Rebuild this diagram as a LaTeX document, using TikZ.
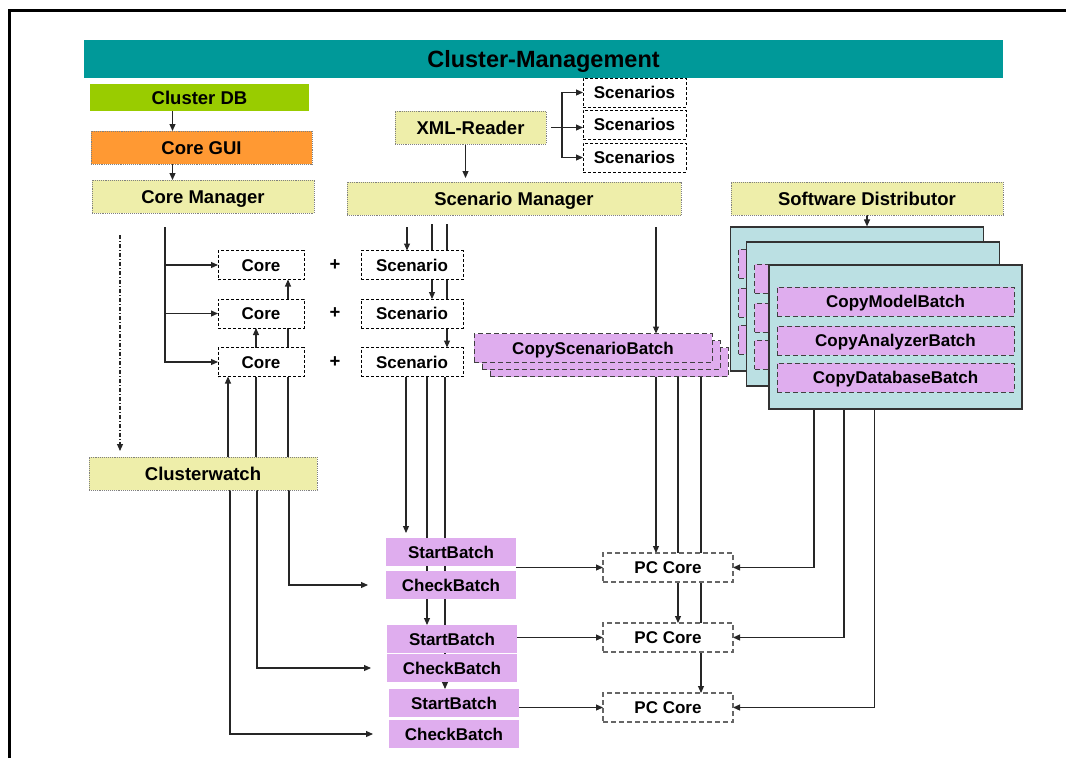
\documentclass[tikz,border=0pt]{standalone}
\usepackage{fontspec}
\setmainfont{Liberation Sans}
\usepackage{xcolor}
\usepackage{tikz}
\usetikzlibrary{arrows.meta, positioning, backgrounds}

\definecolor{titleteal}{HTML}{009999}
\definecolor{dbgreen}{HTML}{99CC00}
\definecolor{guiorange}{HTML}{FF9933}
\definecolor{mgryellow}{HTML}{EEEEAA}
\definecolor{batchlilac}{HTML}{DFADEE}
\definecolor{panelteal}{HTML}{BBE0E3}

\begin{document}
\begin{tikzpicture}[
        x=1pt, y=-1pt,
        box/.style={rectangle, inner sep=0pt, outer sep=0pt, minimum height=33pt, align=center, text height=13.2pt, text depth=0pt, font=\fontsize{18.5}{20}\selectfont\bfseries},
        small/.style={text height=12.2pt, font=\fontsize{17}{20}\selectfont\bfseries},
        mgr/.style={box, fill=mgryellow, draw=gray, densely dotted, line width=0.9pt},
        dashbox/.style={box, small, fill=white, draw=black, dash pattern=on 3pt off 2pt, line width=0.8pt, minimum height=29pt},
        pccore/.style={box, small, fill=white, draw=black!60, dash pattern=on 5pt off 3pt, line width=1.2pt, minimum width=130pt, minimum height=29pt},
        batch/.style={box, small, fill=batchlilac, minimum width=130pt, minimum height=28pt},
        copybatch/.style={box, small, fill=batchlilac, draw=black!75, dash pattern=on 5pt off 3pt, line width=0.9pt, minimum height=29pt},
        panel/.style={rectangle, inner sep=0pt, fill=panelteal, draw=black!80, line width=1.2pt, minimum width=253pt, minimum height=144pt},
        plusnode/.style={inner sep=0pt, font=\fontsize{18.5}{20}\selectfont\bfseries},
        arr/.style={-{Triangle[length=7pt,width=6pt]}, draw=black!85, line width=1.1pt},
        node distance=0pt
    ]
        \useasboundingbox (0,0) rectangle (1066,758);
        \draw[line width=3pt] (9.5,758) -- (9.5,10) -- (1066,10);

        \node[box, fill=titleteal, minimum width=919pt, minimum height=38pt, text height=16.8pt, font=\fontsize{23.5}{26}\selectfont\bfseries] (title) at (543.5,59) {Cluster-Management};
        \node[box, fill=dbgreen, minimum width=219pt, minimum height=27pt] (clusterdb) at (199.5,97.5) {Cluster DB};
        \node[mgr, fill=guiorange, minimum width=221pt] (coregui) at (201.5,147.5) {Core GUI};
        \node[mgr, minimum width=222pt] (coremgr) at (203,196.5) {Core Manager};
        \node[mgr, minimum width=151pt] (xmlreader) at (470.5,127.5) {XML-Reader};
        \node[dashbox, minimum width=103pt] (scenarios1) at (634.5,92.5) {Scenarios};
        \node[dashbox, minimum width=103pt, below=3pt of scenarios1] (scenarios2) {Scenarios};
        \node[dashbox, minimum width=103pt, below=4pt of scenarios2] (scenarios3) {Scenarios};
        \node[mgr, minimum width=334pt] (scenmgr) at (514,198.5) {Scenario Manager};
        \node[mgr, minimum width=272pt] (swdist) at (867,198.5) {Software Distributor};

        \node[dashbox, minimum width=86pt] (core1) at (261,265) {Core};
        \node[dashbox, minimum width=86pt] (core2) at (261,313.5) {Core};
        \node[dashbox, minimum width=86pt] (core3) at (261,362) {Core};
        \node[plusnode] (plus1) at (335,265) {+};
        \node[plusnode] (plus2) at (335,313.5) {+};
        \node[plusnode] (plus3) at (335,362) {+};
        \node[dashbox, minimum width=102pt] (scen1) at (412,265) {Scenario};
        \node[dashbox, minimum width=102pt] (scen2) at (412,313.5) {Scenario};
        \node[dashbox, minimum width=102pt] (scen3) at (412,362) {Scenario};
        \node[mgr, minimum width=228pt] (clusterwatch) at (203,473.5) {Clusterwatch};

        \node[copybatch, minimum width=238pt] (csback2) at (609,362) {};
        \node[copybatch, minimum width=238pt] (csback1) at (601,355) {};
        \node[copybatch, minimum width=238pt] (copyscen) at (593,348) {CopyScenarioBatch};

        \node[panel] (p1) at (857,299) {};
        \node[copybatch, minimum width=237pt] (p1m) at ([yshift=35.5pt]p1.center) {};
        \node[copybatch, minimum width=237pt] (p1a) at ([yshift=-3.5pt]p1.center) {};
        \node[copybatch, minimum width=237pt] (p1d) at ([yshift=-40.5pt]p1.center) {};
        \node[panel] (p2) at (873,314) {};
        \node[copybatch, minimum width=237pt] (p2m) at ([yshift=35.5pt]p2.center) {};
        \node[copybatch, minimum width=237pt] (p2a) at ([yshift=-3.5pt]p2.center) {};
        \node[copybatch, minimum width=237pt] (p2d) at ([yshift=-40.5pt]p2.center) {};
        \node[panel] (p3) at (895.5,337) {};
        \node[copybatch, minimum width=237pt] (p3m) at ([yshift=35.5pt]p3.center) {CopyModelBatch};
        \node[copybatch, minimum width=237pt] (p3a) at ([yshift=-3.5pt]p3.center) {CopyAnalyzerBatch};
        \node[copybatch, minimum width=237pt] (p3d) at ([yshift=-40.5pt]p3.center) {CopyDatabaseBatch};

        \node[batch] (sb1) at (451,552) {StartBatch};
        \node[batch, below=5pt of sb1] (cb1) {CheckBatch};
        \node[batch] (sb2) at (452,639) {StartBatch};
        \node[batch, below=1pt of sb2] (cb2) {CheckBatch};
        \node[batch] (sb3) at (454,703) {StartBatch};
        \node[batch, below=3pt of sb3] (cb3) {CheckBatch};
        \node[pccore] (pc1) at (668,567.5) {PC Core};
        \node[pccore] (pc2) at (668,637.5) {PC Core};
        \node[pccore] (pc3) at (668,707.5) {PC Core};

        \begin{scope}[on background layer]
        \draw[arr] ([xshift=-27pt]clusterdb.south) -- ([xshift=-27pt]clusterdb.south |- coregui.north);
        \draw[arr] ([xshift=-29pt]coregui.south) -- ([xshift=-29pt]coregui.south |- coremgr.north);
        \draw[arr, dash pattern=on 4pt off 2pt on 1pt off 2pt, shorten >=6pt] ([xshift=-83pt,yshift=-22pt]coremgr.south) -- ([xshift=-83pt]coremgr.south |- clusterwatch.north);
        \coordinate (bus) at ([xshift=-38pt,yshift=-14pt]coremgr.south);
        \draw[arr] (bus) |- (core3.west);
        \draw[arr] (bus |- core1.west) -- (core1.west);
        \draw[arr] (bus |- core2.west) -- (core2.west);

        \coordinate (fork) at ([xshift=16pt]xmlreader.east);
        \draw[arr] ([xshift=5pt]xmlreader.east) -- (xmlreader.east -| scenarios2.west);
        \draw[arr] (fork) |- (scenarios1.west);
        \draw[arr] (fork) |- (scenarios3.west);
        \draw[arr, shorten >=4pt] ([xshift=-5pt]xmlreader.south) -- ([xshift=-5pt]xmlreader.south |- scenmgr.north);

        \coordinate (sm1) at ([xshift=-107pt,yshift=-12pt]scenmgr.south);
        \coordinate (sm2) at ([xshift=-82pt,yshift=-9pt]scenmgr.south);
        \coordinate (sm3) at ([xshift=-67pt,yshift=-9pt]scenmgr.south);
        \coordinate (sm4) at ([xshift=142pt,yshift=-12pt]scenmgr.south);
        \draw[arr] (sm1) -- (sm1 |- scen1.north);
        \draw[arr] (sm2) -- (sm2 |- scen2.north);
        \draw[arr] (sm3) -- (sm3 |- scen3.north);
        \draw[arr] (sm4) -- (sm4 |- copyscen.north);

        \draw[arr, shorten >=5pt] ([xshift=-6pt]scen3.south) -- ([xshift=-6pt]scen3.south |- sb1.north);
        \draw[arr] ([xshift=15pt]scen3.south) -- ([xshift=15pt]scen3.south |- sb2.north);
        \draw[arr] ([xshift=33pt]scen3.south) -- ([xshift=33pt]scen3.south |- sb3.north);

        \draw[arr] ([xshift=25pt]clusterwatch.north) -- ([xshift=25pt]clusterwatch.north |- core3.south);
        \draw[arr] ([xshift=53pt]clusterwatch.north) -- ([xshift=53pt]clusterwatch.north |- core2.south);
        \draw[arr] ([xshift=85pt]clusterwatch.north) -- ([xshift=85pt]clusterwatch.north |- core1.south);
        \draw[arr, shorten >=18pt] ([xshift=86pt]clusterwatch.south) |- (cb1.west);
        \draw[arr, shorten >=16pt] ([xshift=54pt]clusterwatch.south) |- (cb2.west);
        \draw[arr, shorten >=16pt] ([xshift=27pt]clusterwatch.south) |- (cb3.west);

        \draw[arr] ([xshift=63pt]copyscen.south) -- ([xshift=63pt]copyscen.south |- pc1.north);
        \draw[arr] ([xshift=85pt]copyscen.south) -- ([xshift=85pt]copyscen.south |- pc2.north);
        \draw[arr] ([xshift=108pt]copyscen.south) -- ([xshift=108pt]copyscen.south |- pc3.north);

        \draw[arr] (swdist.south) -- (swdist.south |- p1.north);
        \draw[arr] ([xshift=-81.5pt]p3.south) |- (pc1.east);
        \draw[arr] ([xshift=-51.5pt]p3.south) |- (pc2.east);
        \draw[arr] ([xshift=-21pt]p3.south) |- (pc3.east);

        \draw[arr] (sb1.east |- pc1.west) -- (pc1.west);
        \draw[arr] (sb2.east |- pc2.west) -- (pc2.west);
        \draw[arr] (sb3.east |- pc3.west) -- (pc3.west);
        \end{scope}
    \end{tikzpicture}
\end{document}
